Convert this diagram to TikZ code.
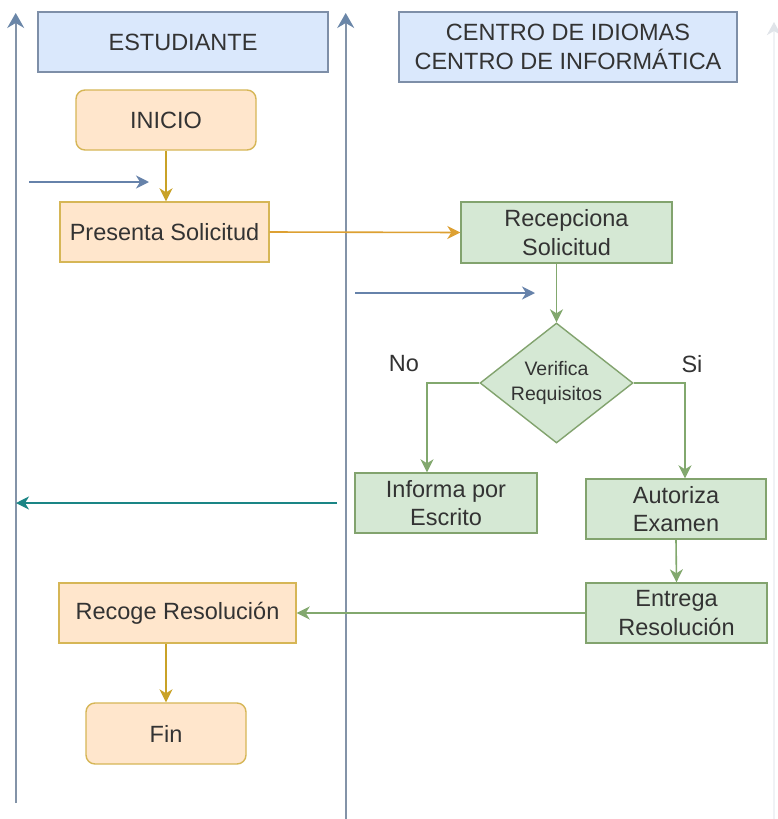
\documentclass[tikz,border=0pt]{standalone}
\usepackage{fontspec}
\setmainfont{Liberation Sans}
\usetikzlibrary{shapes.geometric,arrows.meta}
\definecolor{bluefill}{HTML}{DAE8FC}
\definecolor{bluestroke}{HTML}{7E8FA8}
\definecolor{orfill}{HTML}{FFE6CC}
\definecolor{orstroke}{HTML}{D6B656}
\definecolor{grfill}{HTML}{D5E8D4}
\definecolor{grstroke}{HTML}{82A36E}
\definecolor{lanecol}{HTML}{8393A8}
\definecolor{laneTip}{HTML}{6A86A8}
\definecolor{flowblue}{HTML}{6682AA}
\definecolor{gold}{HTML}{C9A227}
\definecolor{orarrow}{HTML}{DDA032}
\definecolor{greenarrow}{HTML}{82A86E}
\definecolor{teal}{HTML}{1A8585}
\definecolor{txt}{HTML}{333333}
\begin{document}
\begin{tikzpicture}[x=1pt,y=-1pt,
  every node/.style={font=\fontsize{23.5}{28.5}\selectfont, text=txt, align=center, inner sep=0pt},
  header/.style={draw=bluestroke, fill=bluefill, line width=1.6pt},
  orbox/.style={draw=orstroke, fill=orfill, line width=1.4pt},
  orround/.style={orbox, rounded corners=9pt},
  grbox/.style={draw=grstroke, fill=grfill, line width=1.4pt},
  tip/.style={-{Stealth[length=13pt,width=13pt,inset=4pt]}},
  lane/.style={draw=lanecol, line width=1.8pt, -{Stealth[length=15pt,width=17pt,inset=5pt,color=laneTip]}},
  conn/.style={tip, line width=1.6pt},
]
\useasboundingbox (0,0) rectangle (777,819);
\fill[white] (0,0) rectangle (777,819);

% lanes
\coordinate (l1b) at (15.7,803);
\coordinate (l1t) at (15.7,13);
\coordinate (l2b) at (345.7,819);
\coordinate (l2t) at (345.7,13);
\coordinate (l3b) at (774,819);
\coordinate (l3t) at (774,22);
\draw[lane] (l1b) -- (l1t);
\draw[lane] (l2b) -- (l2t);
\draw[draw=lanecol!12, line width=1.5pt, -{Stealth[length=13pt,width=14pt,inset=4pt,color=lanecol!25]}] (l3b) -- (l3t);

% headers
\node[header, minimum width=290, minimum height=60] (est) at (183,42) {ESTUDIANTE};
\node[header, minimum width=338, minimum height=70] (cen) at (568,47) {CENTRO DE IDIOMAS\\CENTRO DE INFORMÁTICA};

% student lane
\node[orround, minimum width=180, minimum height=60] (inicio) at (166,120) {INICIO};
\node[orbox, minimum width=209, minimum height=60] (pres) at (164.5,232) {Presenta Solicitud};
\node[orbox, minimum width=237, minimum height=60] (recoge) at (177.5,613) {Recoge Resolución};
\node[orround, minimum width=160, minimum height=61] (fin) at (166,733.5) {Fin};

% center lane
\node[grbox, minimum width=211, minimum height=61] (recep) at (566.5,232.5) {Recepciona\\Solicitud};
\node[grbox, diamond, aspect=1.275, minimum width=153, minimum height=120, font=\fontsize{19.5}{25}\selectfont] (dia) at (556.5,383) {Verifica\\Requisitos};
\node[grbox, minimum width=182, minimum height=60] (inf) at (446,503) {Informa por\\Escrito};
\node[grbox, minimum width=180, minimum height=60] (aut) at (676,509) {Autoriza\\Examen};
\node[grbox, minimum width=181, minimum height=60] (ent) at (676.5,613) {Entrega\\Resolución};

\node (no) at (404,364) {No};
\node (si) at (692,364) {Si};

% free arrows
\coordinate (b1s) at (29,182);
\coordinate (b1e) at (149,182);
\coordinate (b2s) at (355,293);
\coordinate (b2e) at (535,293);
\coordinate (ts) at (337,503);
\coordinate (te) at (16,503);
\draw[conn, draw=flowblue] (b1s) -- (b1e);
\draw[conn, draw=flowblue] (b2s) -- (b2e);
\draw[conn, draw=teal] (ts) -- (te);

% connectors
\draw[conn, draw=gold] (inicio.south) -- (pres.north -| inicio.south);
\draw[conn, draw=orarrow] (pres.east) -- (recep.west);
\draw[conn, draw=greenarrow] (recep.south -| dia.north) -- (dia.north);
\coordinate (nob) at (427,383);
\coordinate (sib) at (685,383);
\draw[conn, draw=greenarrow] (dia.west) -- (nob) -- (nob |- inf.north);
\draw[conn, draw=greenarrow] (dia.east) -- (sib) -- (sib |- aut.north);
\draw[conn, draw=greenarrow] (aut.south) -- (ent.north);
\draw[conn, draw=greenarrow] (ent.west) -- (recoge.east);
\draw[conn, draw=gold] (recoge.south -| fin.north) -- (fin.north);
\end{tikzpicture}
\end{document}
